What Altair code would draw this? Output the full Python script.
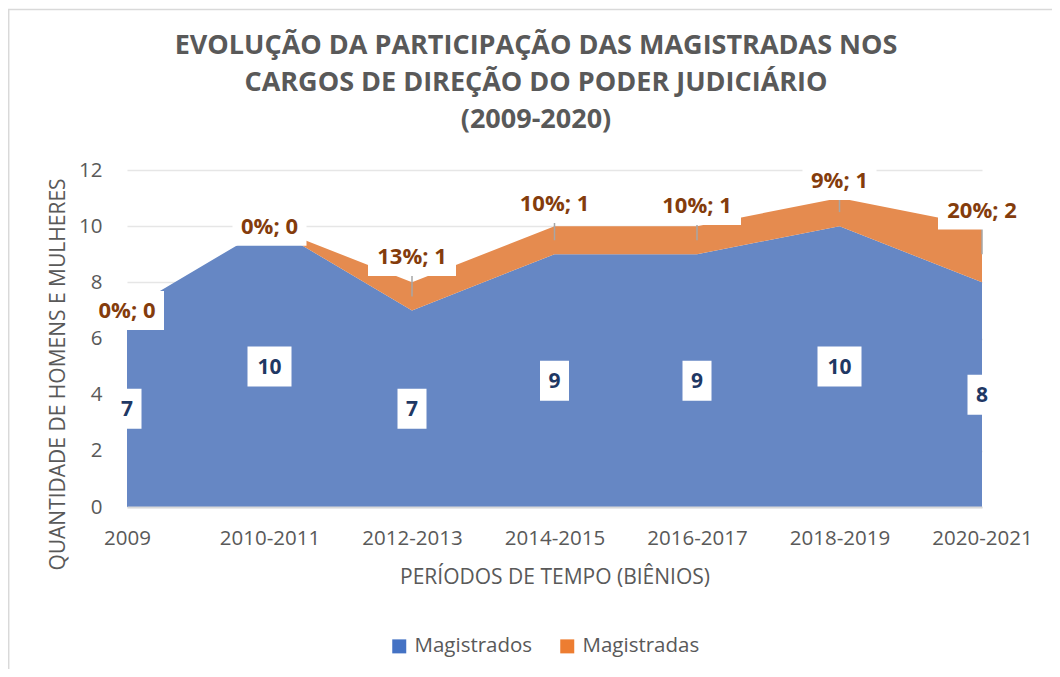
import altair as alt
import pandas as pd

categories = ["2009", "2010-2011", "2012-2013", "2014-2015", "2016-2017", "2018-2019", "2020-2021"]
magistrados = [7, 10, 7, 9, 9, 10, 8]
magistradas = [0, 0, 1, 1, 1, 1, 2]
# how far (in data units) each "Magistradas" label was dragged above its band centre
magistradas_label_lift = [0, 0, 1.42, 1.31, 1.24, 1.13, 1.58]
series_names = ["Magistrados", "Magistradas"]
legend_colors = ["#4472C4", "#ED7D31"]
area_colors = ["#6687C4", "#E58B4F"]
title_lines = ["EVOLUÇÃO DA PARTICIPAÇÃO DAS MAGISTRADAS NOS",
               "CARGOS DE DIREÇÃO DO PODER JUDICIÁRIO",
               "(2009-2020)"]

FONT = "Open Sans"
GREY = "#595959"


def box_path(w, h):
    return f"M{-w/2},{-h/2}H{w/2}V{h/2}H{-w/2}Z"


rows = []
for c, m, f, lift in zip(categories, magistrados, magistradas, magistradas_label_lift):
    total = m + f
    pct = int(f * 100 / total + 0.5)
    m_lab = str(m)
    f_lab = f"{pct}%; {f}"
    rows.append(dict(
        cat=c, m=m, f=f, total=total,
        m_mid=m / 2, f_mid=m + f / 2, f_lab_y=m + f / 2 + lift,
        lifted=lift > 0,
        m_label=m_lab, f_label=f_lab,
        m_box=box_path(14 + 15 * len(m_lab), 40),
        f_box=box_path(4 + 14 * len(f_lab), 39),
    ))
df = pd.DataFrame(rows)

W, H = 855, 337

xscale = alt.Scale(type="point", padding=0, domain=categories)
yscale = alt.Scale(domain=[0, 12], nice=False, zero=True)
xaxis = alt.Axis(labelFont=FONT, labelFontSize=20.5, labelColor=GREY, labelAngle=0,
                 labelPadding=21, ticks=False, tickSize=0, domain=True,
                 domainColor="#D9D9D9", domainWidth=2, grid=False, labelOverlap=False,
                 titleFont=FONT, titleFontSize=21, titleColor=GREY, titleFontWeight="normal",
                 titleX=W / 2, titleY=70, titleAlign="center", titleBaseline="middle", zindex=1)
yaxis = alt.Axis(values=[0, 2, 4, 6, 8, 10, 12], labelFont=FONT, labelFontSize=20.5,
                 labelColor=GREY, labelPadding=25, ticks=False, tickSize=0, domain=False,
                 grid=True, gridColor="#E6E6E6", gridWidth=1.3,
                 titleFont=FONT, titleFontSize=21, titleColor=GREY, titleFontWeight="normal",
                 titleX=-69, titleY=204, titleAlign="center", titleBaseline="middle")
XT = "PERÍODOS DE TEMPO (BIÊNIOS)"
YT = "QUANTIDADE DE HOMENS E MULHERES"


def X():
    return alt.X("cat:N", scale=xscale, axis=xaxis, title=XT)


def Y(field):
    return alt.Y(field, scale=yscale, axis=yaxis, title=YT)


base = alt.Chart(df)

frame = alt.Chart(alt.Data(values=[{"a": 1}])).mark_rect(
    fillOpacity=0, stroke="#D9D9D9", strokeWidth=1.5
).encode(x=alt.value(-118.3), x2=alt.value(1000), y=alt.value(-160.5), y2=alt.value(600))

blue_area = base.mark_area(color=area_colors[0], opacity=1).encode(x=X(), y=Y("m:Q"))
orange_area = base.mark_area(color=area_colors[1], opacity=1).encode(
    x=X(), y=Y("total:Q"), y2="m:Q")

leaders = base.transform_filter("datum.lifted").mark_rule(
    color="#A6A6A6", strokeWidth=1.5
).encode(x=X(), y=Y("f_mid:Q"), y2="f_lab_y:Q")

blue_boxes = base.mark_point(filled=True, color="white", opacity=1, size=4, strokeWidth=0).encode(
    x=X(), y=Y("m_mid:Q"), shape=alt.Shape("m_box:N", scale=None))
blue_text = base.mark_text(font=FONT, fontWeight="bold", fontSize=21, color="#1F3864", dy=1).encode(
    x=X(), y=Y("m_mid:Q"), text="m_label:N")

orange_boxes = base.mark_point(filled=True, color="white", opacity=1, size=4, strokeWidth=0).encode(
    x=X(), y=Y("f_lab_y:Q"), shape=alt.Shape("f_box:N", scale=None))
orange_text = base.mark_text(font=FONT, fontWeight="bold", fontSize=22, color="#843C0C", dy=1).encode(
    x=X(), y=Y("f_lab_y:Q"), text="f_label:N")

title = alt.Chart(alt.Data(values=[{"a": 1}])).mark_text(
    font=FONT, fontWeight="bold", fontSize=27, color=GREY, lineHeight=37,
    align="center", baseline="middle"
).encode(x=alt.value(409), y=alt.value(-124.5), text=alt.value(title_lines))

legend_layer = alt.Chart(pd.DataFrame({"series": series_names})).mark_square(
    size=196, opacity=1
).encode(
    x=alt.value(-3000), y=alt.value(-3000),
    color=alt.Color("series:N",
                    scale=alt.Scale(domain=series_names, range=legend_colors),
                    legend=alt.Legend(orient="none", legendX=262, legendY=466,
                                      direction="horizontal", title=None,
                                      labelFont=FONT, labelFontSize=20.5, labelColor=GREY,
                                      symbolType="square", symbolSize=196,
                                      symbolStrokeWidth=0, labelOffset=5,
                                      columnPadding=24))
)

chart = alt.layer(
    frame, blue_area, orange_area, leaders, blue_boxes, blue_text,
    orange_boxes, orange_text, title, legend_layer
).properties(
    width=W, height=H,
    autosize=alt.AutoSizeParams(type="none"),
    padding={"left": 119, "top": 162, "right": 70, "bottom": 162},
    background="white",
).configure_view(strokeWidth=0)

chart.save("out.html", embed_options={"renderer": "svg", "actions": False})
